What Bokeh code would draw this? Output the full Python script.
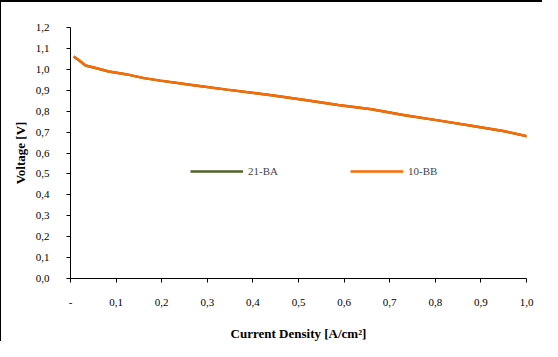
from bokeh.plotting import figure
from bokeh.models import Legend, LegendItem, FixedTicker
from bokeh.embed import file_html
from bokeh.resources import INLINE

# Data
current_density = [0.007, 0.022, 0.033, 0.055, 0.084, 0.121, 0.161, 0.197, 0.27, 0.343,
                   0.441, 0.514, 0.587, 0.66, 0.733, 0.806, 0.879, 0.952, 1.003]
voltage_21ba = [1.061, 1.037, 1.018, 1.006, 0.990, 0.977, 0.958, 0.946, 0.924, 0.903,
                0.876, 0.853, 0.829, 0.809, 0.780, 0.756, 0.730, 0.704, 0.679]
voltage_10bb = [1.061, 1.037, 1.018, 1.006, 0.990, 0.977, 0.958, 0.946, 0.924, 0.903,
                0.876, 0.853, 0.829, 0.809, 0.780, 0.756, 0.730, 0.704, 0.679]
series_names = ["21-BA", "10-BB"]
series_colors = ["#4F6228", "#FF6A00"]

x_ticks = [0.0, 0.1, 0.2, 0.3, 0.4, 0.5, 0.6, 0.7, 0.8, 0.9, 1.0]
x_tick_labels = ["-", "0,1", "0,2", "0,3", "0,4", "0,5", "0,6", "0,7", "0,8", "0,9", "1,0"]
y_ticks = [0.0, 0.1, 0.2, 0.3, 0.4, 0.5, 0.6, 0.7, 0.8, 0.9, 1.0, 1.1, 1.2]
y_tick_labels = ["0,0", "0,1", "0,2", "0,3", "0,4", "0,5", "0,6", "0,7", "0,8", "0,9", "1,0", "1,1", "1,2"]

FONT = "'Liberation Serif', 'DejaVu Serif', serif"

p = figure(width=542, height=341, x_range=(0, 1.0), y_range=(0, 1.2),
           output_backend="svg", toolbar_location=None,
           min_border_left=69, min_border_right=17, min_border_top=25, min_border_bottom=60)
p.outline_line_color = None
p.xgrid.visible = False
p.ygrid.visible = False
p.styles = {"border-top": "2px solid black", "border-left": "1px solid black"}

r1 = p.line(current_density, voltage_21ba, line_color=series_colors[0], line_width=2.5)
r2 = p.line(current_density, voltage_10bb, line_color=series_colors[1], line_width=2.5)

for ax, ticks, labels in ((p.xaxis[0], x_ticks, x_tick_labels), (p.yaxis[0], y_ticks, y_tick_labels)):
    ax.ticker = FixedTicker(ticks=ticks)
    ax.major_label_overrides = {t: l for t, l in zip(ticks, labels)}
    ax.minor_tick_line_color = None
    ax.major_tick_in = 0
    ax.major_tick_out = 4
    ax.axis_line_color = "black"
    ax.major_tick_line_color = "black"
    ax.major_label_text_font = FONT
    ax.major_label_text_font_size = "11px"
    ax.major_label_text_color = "black"
    ax.axis_label_text_font = FONT
    ax.axis_label_text_font_size = "13px"
    ax.axis_label_text_font_style = "bold"
    ax.axis_label_text_color = "black"

p.xaxis.axis_label = "Current Density [A/cm²]"
p.yaxis.axis_label = "Voltage [V]"
p.xaxis.major_label_standoff = 16
p.yaxis.major_label_standoff = 17
p.xaxis.axis_label_standoff = 17
p.yaxis.axis_label_standoff = 5

legend = Legend(items=[LegendItem(label=series_names[0], renderers=[r1]),
                       LegendItem(label=series_names[1], renderers=[r2])],
                orientation="horizontal", location=(120, 97),
                glyph_width=53, glyph_height=20, label_standoff=5,
                label_width=60, spacing=42, padding=0, margin=0,
                border_line_color=None, background_fill_alpha=0,
                label_text_font=FONT, label_text_font_size="11px")
p.add_layout(legend, "center")

open("out.html", "w").write(file_html(p, INLINE))
